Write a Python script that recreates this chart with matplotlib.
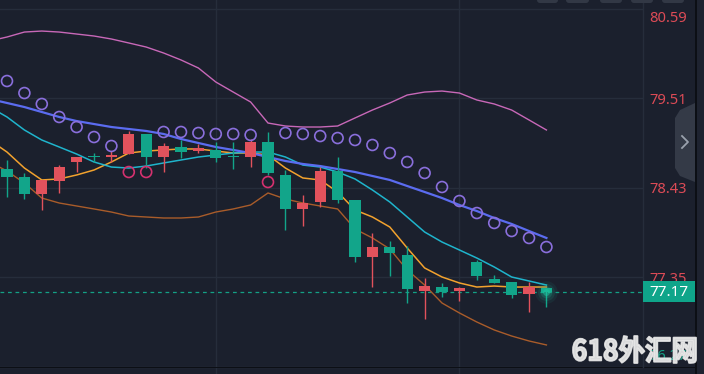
import numpy as np
import matplotlib
matplotlib.use('Agg')
import matplotlib.pyplot as plt
from matplotlib.patches import Rectangle, Polygon, PathPatch, FancyBboxPatch
from matplotlib.textpath import TextPath
from matplotlib.font_manager import FontProperties
from matplotlib.transforms import Affine2D, IdentityTransform

# ---------------- data ----------------
opens  = [78.653, 78.557, 78.352, 78.508, 78.738, 78.800, 78.798, 78.834, 79.076, 78.798,
          78.919, 78.870, 78.883, 78.800, 78.798, 78.979, 78.581, 78.171, 78.255, 78.629,
          78.279, 77.591, 77.712, 77.616, 77.181, 77.229, 77.181, 77.531, 77.326, 77.290,
          77.145, 77.217]
highs  = [78.762, 78.605, 78.521, 78.701, 78.798, 78.846, 78.870, 79.112, 79.076, 78.967,
          79.003, 78.955, 78.979, 78.979, 79.015, 79.100, 78.641, 78.340, 78.677, 78.798,
          78.279, 77.881, 77.785, 77.724, 77.338, 77.278, 77.229, 77.555, 77.374, 77.290,
          77.290, 77.217]
lows   = [78.315, 78.291, 78.159, 78.364, 78.617, 78.738, 78.738, 78.834, 78.665, 78.617,
          78.786, 78.846, 78.738, 78.653, 78.677, 78.581, 77.917, 77.965, 78.195, 78.243,
          77.531, 77.229, 77.362, 77.036, 76.843, 77.109, 77.060, 77.314, 77.278, 77.097,
          76.928, 76.988]
closes = [78.557, 78.352, 78.521, 78.677, 78.798, 78.795, 78.822, 79.076, 78.798, 78.931,
          78.858, 78.907, 78.786, 78.795, 78.979, 78.605, 78.171, 78.243, 78.629, 78.279,
          77.591, 77.712, 77.640, 77.205, 77.241, 77.169, 77.217, 77.362, 77.278, 77.133,
          77.229, 77.170]

# indicator lines, values for candle index -1 .. 31
ma_slow = [79.498, 79.450, 79.401, 79.341, 79.281, 79.232, 79.196, 79.160, 79.136, 79.112,
           79.076, 79.015, 78.967, 78.919, 78.883, 78.846, 78.798, 78.750, 78.714, 78.689,
           78.653, 78.617, 78.569, 78.521, 78.448, 78.376, 78.303, 78.219, 78.146, 78.062,
           77.990, 77.905, 77.821]
ma_mid  = [79.401, 79.281, 79.124, 79.003, 78.919, 78.834, 78.738, 78.677, 78.665, 78.689,
           78.726, 78.762, 78.798, 78.822, 78.846, 78.858, 78.858, 78.798, 78.701, 78.677,
           78.617, 78.533, 78.400, 78.255, 78.074, 77.893, 77.772, 77.676, 77.579, 77.471,
           77.350, 77.302, 77.253]
ma_fast = [79.003, 78.858, 78.665, 78.521, 78.533, 78.581, 78.641, 78.738, 78.846, 78.870,
           78.883, 78.895, 78.895, 78.870, 78.846, 78.846, 78.822, 78.665, 78.545, 78.521,
           78.376, 78.159, 78.074, 77.953, 77.700, 77.459, 77.350, 77.278, 77.229, 77.241,
           77.229, 77.229, 77.229]
boll_up = [80.198, 80.246, 80.306, 80.318, 80.306, 80.282, 80.258, 80.222, 80.174, 80.125,
           80.053, 79.969, 79.872, 79.703, 79.582, 79.462, 79.208, 79.172, 79.160, 79.160,
           79.172, 79.269, 79.365, 79.450, 79.546, 79.582, 79.594, 79.570, 79.486, 79.438,
           79.365, 79.245, 79.124]
boll_dn = [78.738, 78.629, 78.484, 78.303, 78.243, 78.207, 78.171, 78.134, 78.086, 78.074,
           78.062, 78.062, 78.074, 78.134, 78.171, 78.219, 78.364, 78.291, 78.243, 78.207,
           78.171, 77.929, 77.821, 77.688, 77.435, 77.253, 77.036, 76.916, 76.807, 76.711,
           76.638, 76.578, 76.530]
sar     = [79.715, 79.570, 79.438, 79.281, 79.160, 79.039, 78.931, 78.617, 78.617, 79.100,
           79.100, 79.088, 79.076, 79.076, 79.064, 78.496, 79.088, 79.076, 79.051, 79.027,
           79.003, 78.943, 78.846, 78.738, 78.605, 78.436, 78.267, 78.122, 78.002, 77.905,
           77.821, 77.712]

price_ticks = [80.59, 79.51, 78.43, 77.35, 76.27]
tick_labels = ['80.59', '79.51', '78.43', '77.35', '76.27']
last_price = 77.17
last_label = '77.17'
watermark = '618外汇网'

# ---------------- style ----------------
W, H, DPI = 704, 374, 100
BG = '#1b202d'
GRID = '#262d3b'
RED = '#e2525c'
GREEN = '#12a58a'
YMIN, YMAX = 76.1795, 80.6926
PPP = (YMAX - YMIN) / H          # price per pixel
PLOT_R = 643                      # right edge of plot area (px)

fig = plt.figure(figsize=(W / DPI, H / DPI), dpi=DPI, facecolor=BG)
ax = fig.add_axes([0, 0, PLOT_R / W, 1])
ax.set_facecolor(BG)
ax.set_xlim(-0.402, 36.55)
ax.set_ylim(YMIN, YMAX)
for s in ax.spines.values():
    s.set_visible(False)
ax.set_xticks([])
ax.set_yticks([])

# grid
for p in price_ticks:
    ax.axhline(p, color=GRID, lw=1.0, zorder=0)
for xv in [12, 26]:
    ax.axvline(xv, color=GRID, lw=1.0, zorder=0)

n = len(opens)
xi = np.arange(n)
xl = np.arange(-1, n)

# indicator lines
ax.plot(xl, boll_up, color='#c868b8', lw=1.0, zorder=2)
ax.plot(xl, boll_dn, color='#a95c2a', lw=1.0, zorder=2)
ax.plot(xl, ma_fast, color='#f2a22e', lw=1.1, zorder=2)
ax.plot(xl, ma_mid, color='#1fb4cc', lw=1.1, zorder=2)
ax.plot(xl, ma_slow, color='#5b6cf0', lw=1.6, zorder=2)

# candles
o = np.array(opens); c = np.array(closes)
up = c > o
cols = np.where(up, RED, GREEN)
ax.vlines(xi, lows, highs, colors=cols, lw=1.0, zorder=3)
bottoms = np.minimum(o, c)
heights = np.maximum(np.abs(c - o), PPP * 1.6)
ax.bar(xi, heights, bottom=bottoms, width=0.64, color=cols, linewidth=0, zorder=4)

# SAR dots
sar_a = np.array(sar)
sar_cols = np.where(sar_a > c, '#8a6fdc', '#d5316f')
ax.scatter(xi, sar_a, s=62, facecolors='none', edgecolors=sar_cols, linewidths=1.2, zorder=5)

# last price line + glow
ax.axhline(last_price, color='#14a085', lw=0.9, ls=(0, (3, 3)), zorder=1)
for s_, a_ in [(260, 0.08), (150, 0.12), (70, 0.2), (25, 0.5)]:
    ax.scatter([n - 1], [last_price], s=s_, color='#1fc4a0', alpha=a_, linewidths=0, zorder=6)

# ---------------- right panel (figure pixel coords, y down) ----------------
px = Affine2D().scale(1, -1).translate(0, H)

def to_px(p):
    return (YMAX - p) / PPP

fig.add_artist(plt.Line2D([PLOT_R, PLOT_R], [0, 367], color=GRID, lw=1.0, transform=px))
fig.add_artist(Rectangle((695, 0), 2, H, color='#0c0f15', transform=px, lw=0))
fig.add_artist(Rectangle((697, 0), 7, H, color='#1e2330', transform=px, lw=0))
fig.add_artist(Rectangle((0, 366.5), 697, 1.5, color='#0c0f15', transform=px, lw=0))

# tick labels
lab_font = dict(family='Noto Sans', fontsize=10.6)
for p, lab in zip(price_ticks, tick_labels):
    yp = min(max(to_px(p) + 2, 19), 356)
    col = '#dc4b56' if p > last_price else '#14a085'
    fig.text(649, yp, lab, color=col, ha='left', va='center', transform=px, zorder=3, **lab_font)

# last price box
fig.add_artist(Rectangle((643, to_px(last_price) - 10.5), 52, 21, color='#0fa58a', lw=0,
                         transform=px, zorder=4))
fig.text(669, to_px(last_price) + 0.5, last_label, color='white', ha='center', va='center',
         transform=px, zorder=5, family='Noto Sans', fontsize=11)

# side tab
fig.add_artist(Polygon([(695, 103), (680, 110), (675, 118), (675, 168), (680, 176), (695, 182)],
                       closed=True, color='#343a47', lw=0, transform=px, zorder=3))
fig.add_artist(plt.Line2D([682, 688, 682], [136, 142, 148], color='#9aa1ad', lw=1.3,
                          transform=px, zorder=4))

# top buttons
for x0, x1 in [(537, 558), (566, 589), (600, 622), (631, 653), (662, 684)]:
    fig.add_artist(FancyBboxPatch((x0, -6), x1 - x0, 9, boxstyle='round,pad=0,rounding_size=3',
                                  color='#323845', lw=0, transform=px, zorder=3))

# watermark
fp = FontProperties(family='Noto Sans CJK SC', weight='bold')
tp = TextPath((0, 0), watermark, size=100, prop=fp)
ext = tp.get_extents()
sx = (696 - 573) / ext.width
sy = (38 - 11) / ext.height
tr = Affine2D().translate(-ext.x0, -ext.y0).scale(sx, sy).translate(573, 11)
fig.add_artist(PathPatch(tr.transform_path(tp), transform=IdentityTransform(),
                         facecolor='#e8e8e8', edgecolor='#e8e8e8', linewidth=1.3,
                         joinstyle='round', alpha=0.93, zorder=10))

fig.savefig('out.png', dpi=DPI, facecolor=BG)
